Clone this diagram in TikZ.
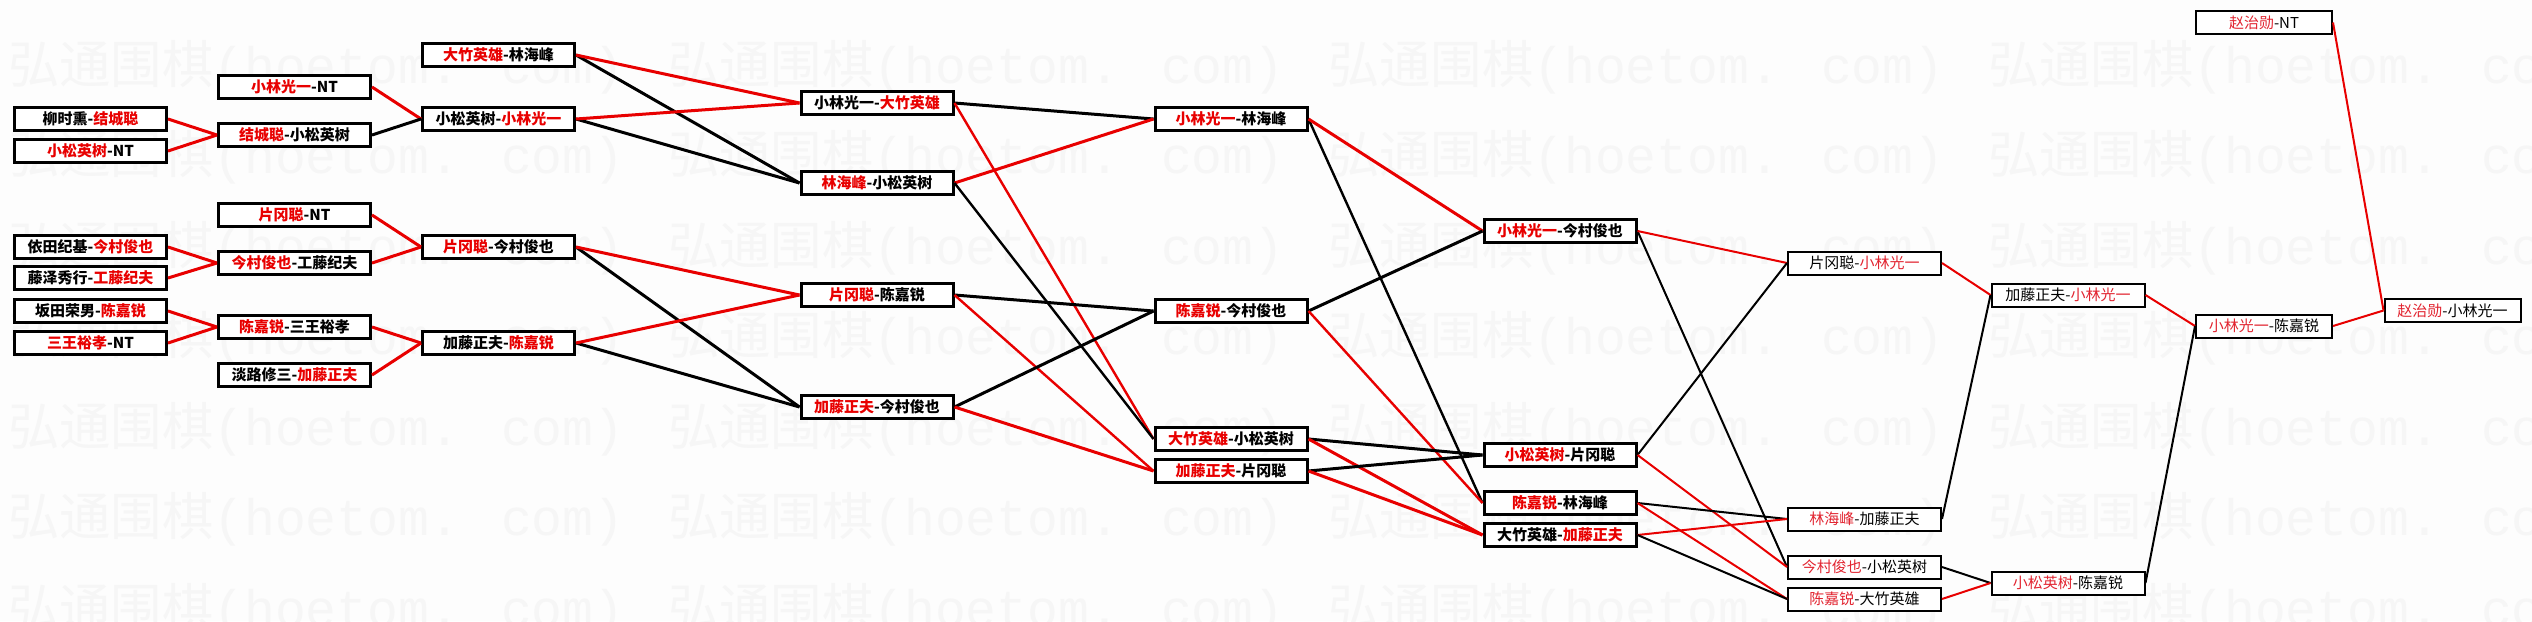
\documentclass[tikz,border=0pt]{standalone}
\usepackage{fontspec}
\newfontfamily\cjk{Noto Sans CJK SC}
\newfontfamily\wmlat{Liberation Mono}
\definecolor{rd}{RGB}{232,0,0}
\definecolor{rdl}{RGB}{226,36,48}
\definecolor{wm}{RGB}{246,246,246}
\definecolor{bg}{RGB}{253,253,253}
\newcommand\rw[1]{\textcolor{rd}{#1}}
\newcommand\rl[1]{\textcolor{rdl}{#1}}
\begin{document}
\begin{tikzpicture}[x=1pt,y=-1pt,
  bx/.style={draw=black,fill=white,line width=3pt,minimum width=152pt,minimum height=23pt,inner sep=0pt,
    font=\cjk\bfseries\fontsize{15}{18}\selectfont},
  bt/.style={draw=black,fill=white,line width=2pt,minimum width=153pt,minimum height=23pt,inner sep=0pt,
    font=\cjk\fontsize{15}{18}\selectfont},
  bn/.style={bt,minimum width=136pt},
  W/.style={draw=rd,line width=3pt},
  L/.style={draw=black,line width=3pt},
  Wm/.style={draw=rd,line width=2.4pt},
  Lm/.style={draw=black,line width=2.4pt},
  Ws/.style={draw=rd,line width=2pt},
  Ls/.style={draw=black,line width=2pt},
  wmk/.style={anchor=west,inner sep=0pt,text=wm,font=\cjk\fontsize{10}{12}\selectfont}
]
\useasboundingbox (0,0) rectangle (2532,621);
\clip (0,0) rectangle (2532,621);
\fill[bg] (0,0) rectangle (2532,621);
% watermark
\foreach \r in {0,...,6}{
  \foreach \c in {0,...,3}{
    \node[wmk] (wm\r\c) at (8+660*\c, 67+90.5*\r) {\resizebox{616pt}{!}{弘通围棋{\wmlat(hoetom. com)}}};
  }
}
% column 1
\node[bx] (a1) at (90.5,119) {柳时熏-\rw{结城聪}};
\node[bx] (a2) at (90.5,151) {\rw{小松英树}-NT};
\node[bx] (a3) at (90.5,247) {依田纪基-\rw{今村俊也}};
\node[bx] (a4) at (90.5,278) {藤泽秀行-\rw{工藤纪夫}};
\node[bx] (a5) at (90.5,311) {坂田荣男-\rw{陈嘉锐}};
\node[bx] (a6) at (90.5,343) {\rw{三王裕孝}-NT};
% column 2
\node[bx] (b1) at (294.5,87) {\rw{小林光一}-NT};
\node[bx] (b2) at (294.5,135) {\rw{结城聪}-小松英树};
\node[bx] (b3) at (294.5,215) {\rw{片冈聪}-NT};
\node[bx] (b4) at (294.5,263) {\rw{今村俊也}-工藤纪夫};
\node[bx] (b5) at (294.5,327) {\rw{陈嘉锐}-三王裕孝};
\node[bx] (b6) at (294.5,375) {淡路修三-\rw{加藤正夫}};
% column 3
\node[bx] (c1) at (498.5,55) {\rw{大竹英雄}-林海峰};
\node[bx] (c2) at (498.5,119) {小松英树-\rw{小林光一}};
\node[bx] (c3) at (498.5,247) {\rw{片冈聪}-今村俊也};
\node[bx] (c4) at (498.5,343) {加藤正夫-\rw{陈嘉锐}};
% column 4
\node[bx] (d1) at (877,103) {小林光一-\rw{大竹英雄}};
\node[bx] (d2) at (877,183) {\rw{林海峰}-小松英树};
\node[bx] (d3) at (877,295) {\rw{片冈聪}-陈嘉锐};
\node[bx] (d4) at (877,407) {\rw{加藤正夫}-今村俊也};
% column 5
\node[bx] (e1) at (1231,119) {\rw{小林光一}-林海峰};
\node[bx] (e2) at (1231,311) {\rw{陈嘉锐}-今村俊也};
\node[bx] (e3) at (1231,439) {\rw{大竹英雄}-小松英树};
\node[bx] (e4) at (1231,471) {\rw{加藤正夫}-片冈聪};
% column 6
\node[bx] (f1) at (1560,231) {\rw{小林光一}-今村俊也};
\node[bx] (f2) at (1560,455) {\rw{小松英树}-片冈聪};
\node[bx] (f3) at (1560,503) {\rw{陈嘉锐}-林海峰};
\node[bx] (f4) at (1560,535) {大竹英雄-\rw{加藤正夫}};
% column 7
\node[bt] (g1) at (1864.5,263) {片冈聪-\rl{小林光一}};
\node[bt] (g2) at (1864.5,519) {\rl{林海峰}-加藤正夫};
\node[bt] (g3) at (1864.5,567) {\rl{今村俊也}-小松英树};
\node[bt] (g4) at (1864.5,599) {\rl{陈嘉锐}-大竹英雄};
% column 8
\node[bt] (h1) at (2068,295) {加藤正夫-\rl{小林光一}};
\node[bt] (h2) at (2068,583) {\rl{小松英树}-陈嘉锐};
% column 9
\node[bn] (i1) at (2264,22.5) {\rl{赵治勋}-NT};
\node[bn] (i2) at (2264,326) {\rl{小林光一}-陈嘉锐};
% column 10
\node[bn] (j1) at (2452.5,310.5) {\rl{赵治勋}-小林光一};
% connectors 1 -> 2
\draw[W] (a1.east) -- (b2.west);
\draw[W] (a2.east) -- (b2.west);
\draw[W] (a3.east) -- (b4.west);
\draw[W] (a4.east) -- (b4.west);
\draw[W] (a5.east) -- (b5.west);
\draw[W] (a6.east) -- (b5.west);
% 2 -> 3
\draw[W] (b1.east) -- (c2.west);
\draw[L] (b2.east) -- (c2.west);
\draw[W] (b3.east) -- (c3.west);
\draw[W] (b4.east) -- (c3.west);
\draw[W] (b5.east) -- (c4.west);
\draw[W] (b6.east) -- (c4.west);
% 3 -> 4
\draw[L] (c1.east) -- (d2.west);
\draw[L] (c2.east) -- (d2.west);
\draw[W] (c1.east) -- (d1.west);
\draw[W] (c2.east) -- (d1.west);
\draw[L] (c3.east) -- (d4.west);
\draw[L] (c4.east) -- (d4.west);
\draw[W] (c3.east) -- (d3.west);
\draw[W] (c4.east) -- (d3.west);
% 4 -> 5
\draw[L] (d1.east) -- (e1.west);
\draw[Wm] (d1.east) -- (e3.west);
\draw[W] (d2.east) -- (e1.west);
\draw[Lm] (d2.east) -- (e3.west);
\draw[L] (d3.east) -- (e2.west);
\draw[Wm] (d3.east) -- (e4.west);
\draw[L] (d4.east) -- (e2.west);
\draw[W] (d4.east) -- (e4.west);
% 5 -> 6
\draw[Lm] (e1.east) -- (f3.west);
\draw[W] (e1.east) -- (f1.west);
\draw[L] (e2.east) -- (f1.west);
\draw[Wm] (e2.east) -- (f3.west);
\draw[L] (e3.east) -- (f2.west);
\draw[W] (e3.east) -- (f4.west);
\draw[L] (e4.east) -- (f2.west);
\draw[W] (e4.east) -- (f4.west);
% 6 -> 7
\draw[Ls] (f1.east) -- (g3.west);
\draw[Ws] (f1.east) -- (g1.west);
\draw[Ls] (f2.east) -- (g1.west);
\draw[Ws] (f2.east) -- (g3.west);
\draw[Ls] (f3.east) -- (g2.west);
\draw[Ws] (f3.east) -- (g4.west);
\draw[Ws] (f4.east) -- (g2.west);
\draw[Ls] (f4.east) -- (g4.west);
% 7 -> 8
\draw[Ws] (g1.east) -- (h1.west);
\draw[Ls] (g2.east) -- (h1.west);
\draw[Ls] (g3.east) -- (h2.west);
\draw[Ws] (g4.east) -- (h2.west);
% 8 -> 9
\draw[Ws] (h1.east) -- (i2.west);
\draw[Ls] (h2.east) -- (i2.west);
% 9 -> 10
\draw[Ws] (i1.east) -- (j1.west);
\draw[Ws] (i2.east) -- (j1.west);
\end{tikzpicture}
\end{document}
